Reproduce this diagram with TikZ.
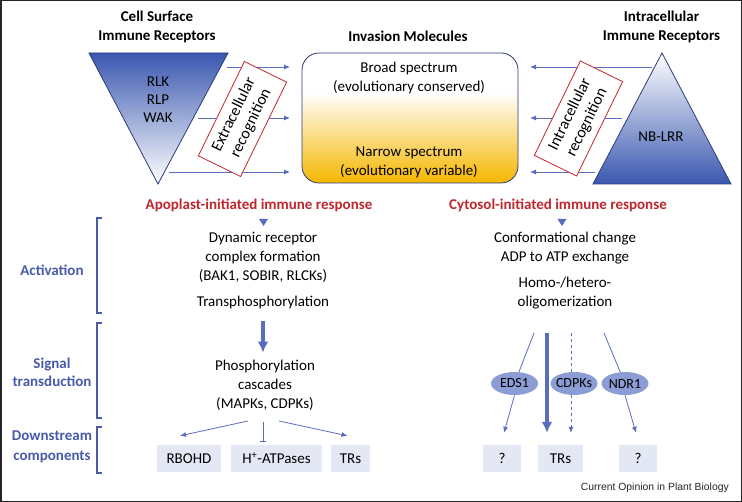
\documentclass[tikz,border=0pt]{standalone}
\usepackage{fontspec}
\setmainfont{Carlito}
\newfontfamily\capfont{Liberation Sans}
\usetikzlibrary{arrows.meta,shapes.geometric}
\definecolor{triblue}{RGB}{58,88,176}
\definecolor{edgeblue}{RGB}{44,58,120}
\definecolor{arrblue}{RGB}{90,108,190}
\definecolor{lblblue}{RGB}{72,90,170}
\definecolor{resred}{RGB}{192,38,45}
\definecolor{gold}{RGB}{245,183,0}
\definecolor{ellblue}{RGB}{140,156,212}
\definecolor{boxfill}{RGB}{228,232,245}
\pgfdeclareverticalshading{invshade}{100bp}{color(0bp)=(gold); color(25bp)=(gold); color(60bp)=(white); color(100bp)=(white)}
\tikzset{txt/.style={font=\fontsize{15}{19}\selectfont, align=center, inner sep=0pt},
  hdr/.style={txt, font=\fontsize{15}{19}\selectfont\bfseries},
  red hdr/.style={hdr, text=resred},
  phase/.style={hdr, text=lblblue, font=\fontsize{15}{19}\selectfont\bfseries},
  recog/.style={txt, font=\fontsize{16}{19}\selectfont, draw=resred, fill=white, rotate=64, minimum width=105pt, minimum height=47pt, line width=0.8pt},
  arr/.style={arrblue, line width=0.8pt, -{Latex[length=6pt,width=5pt]}},
  inhib/.style={arrblue, line width=0.8pt, -{Bar[width=6pt]}},
  thinln/.style={arrblue, line width=0.8pt},
  bigarr/.style={arrblue, line width=3.5pt, -{Latex[length=11pt,width=11pt]}},
  brk/.style={lblblue, line width=2.6pt},
  comp/.style={txt, fill=boxfill, minimum height=27pt},
  sig/.style={txt, ellipse, fill=ellblue, inner xsep=-2pt, minimum width=47pt, minimum height=23pt, font=\fontsize{14}{17}\selectfont}}

\begin{document}
\begin{tikzpicture}[x=1pt, y=-1pt]
   \useasboundingbox (0,0) rectangle (742,502);
   \draw[black!85, line width=1.5pt] (0.75,0.75) rectangle (741.25,501.25);

   % receptors and invasion molecules
   \node[hdr] (cs) at (157,26.5) {Cell Surface\\Immune Receptors};
   \node[hdr] (im) at (408,36) {Invasion Molecules};
   \node[hdr] (ic) at (661.5,26.5) {Intracellular\\Immune Receptors};
   \draw[edgeblue, line width=0.8pt, top color=triblue, middle color=triblue!25, bottom color=white]
     (89,53) -- (228,53) -- (158,184) -- cycle;
   \draw[edgeblue, line width=0.8pt, top color=white, middle color=triblue!20, bottom color=triblue]
     (662,53) -- (731,184) -- (593,184) -- cycle;
   \node[txt, font=\fontsize{15}{18}\selectfont] (rcpt) at (158,100) {RLK\\RLP\\WAK};
   \node[txt] (nlr) at (661,137) {NB-LRR};
   \node[shade, shading=invshade, draw=edgeblue, line width=0.8pt, rounded corners=17pt,
     minimum width=216pt, minimum height=130pt, outer xsep=12pt] (inv) at (410,118) {};
   \node[txt] (broad) at (409,78.5) {Broad spectrum\\(evolutionary conserved)};
   \node[txt] (narrow) at (409,162.5) {Narrow spectrum\\(evolutionary variable)};
   \coordinate (l1) at (227,67);  \coordinate (l2) at (198,118); \coordinate (l3) at (169,172);
   \coordinate (r1) at (652,67);  \coordinate (r2) at (622,118); \coordinate (r3) at (595,172);
   \foreach \s in {l1,l2,l3} \draw[arr] (\s) -- (\s -| inv.west);
   \foreach \s in {r1,r2,r3} \draw[arr] (\s) -- (\s -| inv.east);
   \node[recog] (exrec) at (242.5,119) {Extracellular\\recognition};
   \node[recog] (inrec) at (578.5,118.5) {Intracellular\\recognition};

   % apoplast branch
   \node[red hdr] (apo) at (259,205) {Apoplast-initiated immune response};
   \fill[arrblue] (259,219) -- (268,219) -- (263.5,226) -- cycle;
   \node[txt] (dyn) at (263,257.5) {Dynamic receptor\\complex formation\\(BAK1, SOBIR, RLCKs)};
   \node[txt] (trans) at (263,303) {Transphosphorylation};
   \node[txt] (casc) at (265,385) {Phosphorylation\\cascades\\(MAPKs, CDPKs)};
   \draw[bigarr, shorten <=11pt, shorten >=7pt] (trans) -- (trans |- casc.north);
   \node[comp, minimum width=64pt] (rbohd) at (189,458.5) {RBOHD};
   \node[comp, minimum width=91pt] (atp) at (276.5,458.5) {H\textsuperscript{+}-ATPases};
   \node[comp, minimum width=39pt] (trL) at (350.5,458.5) {TRs};
   \coordinate (cL) at (248,421); \coordinate (cM) at (263,422); \coordinate (cR) at (279,421);
   \draw[arr] (cL) -- ([shift={(-9,-9)}]rbohd.north);
   \draw[inhib] (cM) -- ([shift={(-13.5,-3)}]atp.north);
   \draw[arr] (cR) -- ([shift={(-3,-9)}]trL.north);

   % cytosol branch
   \node[red hdr] (cyto) at (558,205) {Cytosol-initiated immune response};
   \fill[arrblue] (557.5,219) -- (566.5,219) -- (562,226) -- cycle;
   \node[txt] (conf) at (565,248) {Conformational change\\ADP to ATP exchange};
   \node[txt] (homo) at (565,293) {Homo-/hetero-\\oligomerization};
   \node[sig] (eds) at (514.5,383.5) {EDS1};
   \node[sig] (cdpk) at (574,383.5) {CDPKs};
   \node[sig] (ndr) at (625,383.5) {NDR1};
   \node[comp, minimum width=38pt] (q1) at (502,458.5) {?};
   \node[comp, minimum width=45pt] (trR) at (560.5,458.5) {TRs};
   \node[comp, minimum width=38pt] (q2) at (638,458.5) {?};
   \coordinate (hE) at (534,333); \coordinate (hT) at (547,333);
   \coordinate (hC) at (571,333); \coordinate (hN) at (604,333);
   \draw[thinln] (hE) -- (eds);
   \draw[thinln, dashed] (hC) -- (hC |- cdpk.north);
   \draw[thinln] (hN) -- (ndr);
   \draw[bigarr, shorten >=12pt] (hT) -- (hT |- trR.north);
   \draw[arr] (eds.south) -- ([shift={(2,-12)}]q1.north);
   \draw[arr, dashed, shorten >=12pt] (hC |- cdpk.south) -- (hC |- trR.north);
   \draw[arr] (ndr.south) -- ([shift={(-2,-12)}]q2.north);

   % phases
   \node[phase] (act) at (52,270) {Activation};
   \node[phase, font=\fontsize{15}{18}\selectfont\bfseries] (sgl) at (52,372) {Signal\\transduction};
   \node[phase, font=\fontsize{15}{20}\selectfont\bfseries] (down) at (52,447) {Downstream\\components};
   \foreach \a/\b in {218/313,323/418,427/473}
     \draw[brk] (102,\a) -| (97,\b) -- (102,\b);

   \node[anchor=east, inner sep=0pt, font=\capfont\fontsize{10.4}{12}\selectfont, text=black!85] (src) at (729,488) {Current Opinion in Plant Biology};
\end{tikzpicture}
\end{document}
